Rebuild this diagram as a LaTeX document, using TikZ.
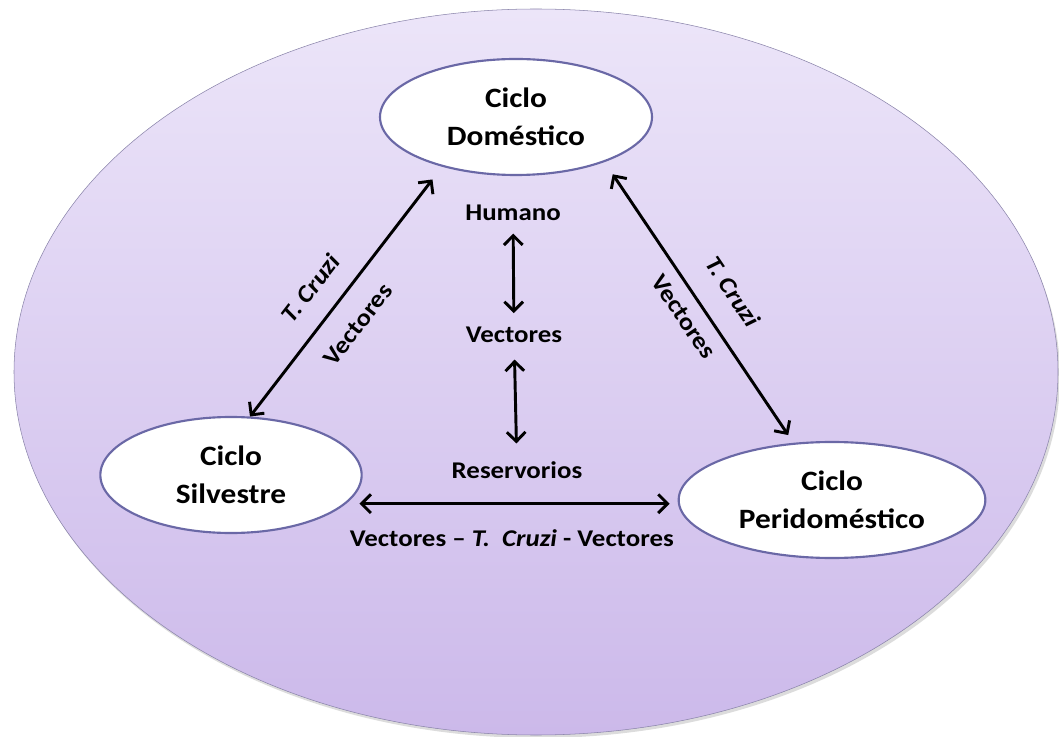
\documentclass[tikz,border=0pt]{standalone}
\usepackage{fontspec}
\setmainfont{Carlito}[FakeStretch=1.12]
\usetikzlibrary{arrows.meta,shapes.geometric}
\definecolor{lila}{HTML}{ECE5F9}
\definecolor{lilaosc}{HTML}{CCB9EA}
\definecolor{borde}{HTML}{8A84AA}
\definecolor{bordeciclo}{HTML}{6A68A6}
\tikzset{
  ciclo/.style={ellipse, draw=bordeciclo, line width=1.6pt, fill=white, inner sep=0pt,
    align=center, font=\fontsize{21}{28.5}\selectfont\bfseries},
  etiq/.style={font=\fontsize{18}{20}\selectfont\bfseries},
  flecha/.style={line width=2.2pt, <->, >={Straight Barb[length=7pt,width=14pt]}},
}
\begin{document}
\begin{tikzpicture}[x=0.75pt,y=-0.75pt]
  %%Area
  \useasboundingbox (0,0) rectangle (1059,737);
  \fill[black!30, opacity=0.45] (538,376) ellipse [x radius=522, y radius=362];
  \draw[borde, top color=lila, bottom color=lilaosc] (536,372) ellipse [x radius=522, y radius=363];
  %%Ciclos
  \node[ciclo, minimum width=204pt, minimum height=87pt] (dom) at (516,117) {Ciclo\\Doméstico};
  \node[ciclo, minimum width=196pt, minimum height=87pt] (silv) at (231,475) {Ciclo\\Silvestre};
  \node[ciclo, minimum width=230pt, minimum height=87pt] (peri) at (832,500) {Ciclo\\Peridoméstico};
  %%Centro
  \node[etiq] (hum) at (513,213) {Humano};
  \node[etiq] (vecm) at (514,335) {Vectores};
  \node[etiq] (res) at (517,470) {Reservorios};
  \draw[flecha, shorten <=6pt, shorten >=7pt] (hum) -- (vecm);
  \draw[flecha, shorten <=9pt, shorten >=10pt] (vecm) -- (res);
  %%Flechas
  \draw[flecha, shorten >=12pt] (silv.72) -- (dom.214)
    node[pos=0.44, sloped, above=12pt, etiq] {\textit{T. Cruzi}}
    node[pos=0.44, sloped, below=12pt, etiq] {Vectores};
  \draw[flecha, shorten <=11pt, shorten >=7pt] (dom.333) -- (peri.124)
    node[pos=0.53, sloped, above=15pt, etiq] {\textit{T. Cruzi}}
    node[pos=0.51, sloped, below=5pt, etiq] {Vectores};
  \draw[flecha, shorten <=10pt, shorten >=6pt] (silv.-14) -- (silv.-14 -| peri.west)
    node[midway, below=15pt, etiq] {Vectores – \textit{T.\ \ Cruzi} - Vectores};
\end{tikzpicture}
\end{document}
